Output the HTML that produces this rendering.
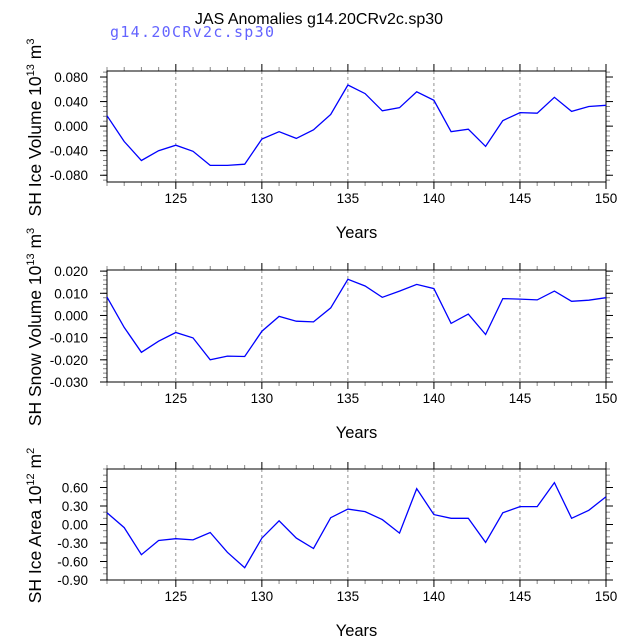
<!DOCTYPE html>
<html><head><meta charset="utf-8"><style>
html,body{margin:0;padding:0;background:#fff;}
svg{display:block;font-family:"Liberation Sans",Arial,sans-serif;}
</style></head><body>
<svg id="chart" width="638" height="638" viewBox="0 0 638 638" xmlns="http://www.w3.org/2000/svg">
<text x="319" y="24" font-size="16" text-anchor="middle">JAS Anomalies g14.20CRv2c.sp30</text>
<text x="110" y="37" font-size="15" fill="#6464ff" font-family="DejaVu Sans Mono, monospace" font-weight="300" textLength="164">g14.20CRv2c.sp30</text>
</svg>
<script>
const years = [121,122,123,124,125,126,127,128,129,130,131,132,133,134,135,136,137,138,139,140,141,142,143,144,145,146,147,148,149,150];
const iceVolume = [0.017,-0.025,-0.056,-0.040,-0.031,-0.041,-0.064,-0.064,-0.062,-0.021,-0.009,-0.020,-0.006,0.019,0.067,0.053,0.025,0.030,0.056,0.042,-0.009,-0.005,-0.033,0.009,0.022,0.021,0.047,0.024,0.032,0.034];
const snowVolume = [0.0083,-0.0054,-0.0166,-0.0116,-0.0077,-0.0101,-0.0200,-0.0183,-0.0185,-0.0071,-0.0004,-0.0026,-0.0029,0.0034,0.0163,0.0133,0.0082,0.0110,0.0140,0.0121,-0.0036,0.0006,-0.0086,0.0076,0.0074,0.0070,0.0110,0.0064,0.0069,0.0080];
const iceArea = [0.19,-0.05,-0.49,-0.26,-0.23,-0.25,-0.13,-0.45,-0.70,-0.22,0.06,-0.22,-0.39,0.11,0.25,0.21,0.08,-0.14,0.58,0.16,0.10,0.10,-0.29,0.19,0.29,0.29,0.68,0.10,0.23,0.45];
const xTicks = [125,130,135,140,145,150];
const iceVolTicks = [-0.08,-0.04,0,0.04,0.08];
const snowVolTicks = [-0.03,-0.02,-0.01,0,0.01,0.02];
const areaTicks = [-0.9,-0.6,-0.3,0,0.3,0.6];

const NS="http://www.w3.org/2000/svg";
const svg=document.getElementById('chart');
function mk(tag,attrs,parent){const e=document.createElementNS(NS,tag);for(const k in attrs)e.setAttribute(k,attrs[k]);(parent||svg).appendChild(e);return e;}
const L=107,R=606;
function xs(v){return L+(v-121)/(150-121)*(R-L);}

const panels=[
 {name:'ice-volume',top:71,bot:182,min:-0.091,max:0.0898,data:iceVolume,ticks:iceVolTicks,minor:0.008,dec:3,title:['SH Ice Volume 10','13',' m','3']},
 {name:'snow-volume',top:270,bot:382,min:-0.030,max:0.0205,data:snowVolume,ticks:snowVolTicks,minor:0.002,dec:3,title:['SH Snow Volume 10','13',' m','3']},
 {name:'ice-area',top:469,bot:580,min:-0.90,max:0.90,data:iceArea,ticks:areaTicks,minor:0.1,dec:2,title:['SH Ice Area 10','12',' m','2']}
];
panels.forEach(p=>{
 const g=mk('g',{});
 
 
 const ys=v=>p.bot-(v-p.min)/(p.max-p.min)*(p.bot-p.top);
 xTicks.slice(0,5).forEach(t=>{
  const l=mk('line',{x1:xs(t),x2:xs(t),y1:p.top,y2:p.bot,stroke:'#777','stroke-width':0.8,'stroke-dasharray':'3,3'},g);
  
  
 });
 for(let y=121;y<=150;y++){
  const major=xTicks.includes(y);
  const len=major?7:4;
  mk('line',{x1:xs(y),x2:xs(y),y1:p.bot,y2:p.bot+len,stroke:major?'#000':'#888','stroke-width':1},g);
  mk('line',{x1:xs(y),x2:xs(y),y1:p.top,y2:p.top-len,stroke:major?'#000':'#888','stroke-width':1},g);
 }
 xTicks.forEach(t=>{
  const tx=mk('text',{x:xs(t),y:p.bot+21,'font-size':13.5,'text-anchor':'middle'},g);
  
  
  tx.textContent=t;
 });
 const xt=mk('text',{x:(L+R)/2,y:p.bot+56,'font-size':16.5,'text-anchor':'middle'},g);
 
 
 xt.textContent='Years';
 const n=Math.round((p.max-p.min)/p.minor)+2;
 const start=Math.ceil(p.min/p.minor-1e-6)*p.minor;
 for(let i=0;i<n;i++){const v=start+i*p.minor;if(v>p.max+1e-9)break;const y=ys(v);
  mk('line',{x1:L,x2:L-4,y1:y,y2:y,stroke:'#888'},g);
  mk('line',{x1:R,x2:R+4,y1:y,y2:y,stroke:'#888'},g);}
 p.ticks.forEach(t=>{const y=ys(t);
  mk('line',{x1:L,x2:L-7,y1:y,y2:y,stroke:'#000'},g);
  mk('line',{x1:R,x2:R+7,y1:y,y2:y,stroke:'#000'},g);
  const tx=mk('text',{x:88,y:y+5,'font-size':13.5,'text-anchor':'end'},g);
  
  
  tx.textContent=t.toFixed(p.dec);
 });
 const fr=mk('rect',{x:L,y:p.top,width:R-L,height:p.bot-p.top,fill:'none',stroke:'#000','stroke-width':1},g);
 
 
 const pts=p.data.map((v,i)=>xs(years[i]).toFixed(1)+','+ys(v).toFixed(1)).join(' ');
 const pl=mk('polyline',{points:pts,fill:'none',stroke:'#0000ff','stroke-width':1.3},g);
 
 
 const cy=(p.top+p.bot)/2+1;
 const yt=mk('text',{x:0,y:0,'font-size':17.5,'text-anchor':'middle',transform:'translate(41,'+cy+') rotate(-90)'},g);
 
 
 const t1=mk('tspan',{},yt);t1.textContent=p.title[0];
 const t2=mk('tspan',{'font-size':11,dy:-7},yt);t2.textContent=p.title[1];
 const t3=mk('tspan',{dy:7},yt);t3.textContent=p.title[2];
 const t4=mk('tspan',{'font-size':11,dy:-7},yt);t4.textContent=p.title[3];
});
</script>
</body></html>
